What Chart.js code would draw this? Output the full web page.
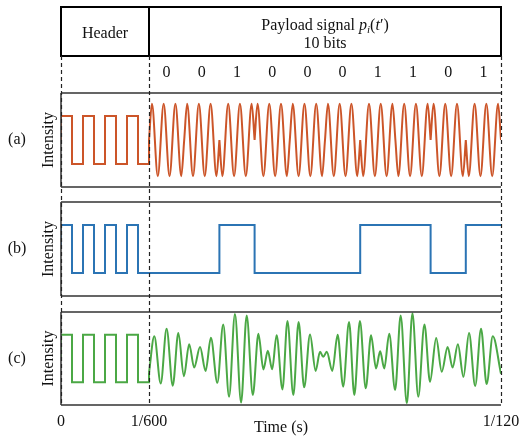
<!DOCTYPE html>
<html>
<head>
<meta charset="utf-8">
<script src="https://cdn.jsdelivr.net/npm/chart.js@4.4.1/dist/chart.umd.min.js"></script>
<style>
  body { margin: 0; background: #fff; }
  #wrap { position: relative; width: 531px; height: 437px; }
  #wrap canvas { position: absolute; left: 0; top: 0; }
</style>
</head>
<body>
<div id="wrap">
  <canvas id="panelA" width="531" height="437"></canvas>
  <canvas id="panelB" width="531" height="437"></canvas>
  <canvas id="panelC" width="531" height="437"></canvas>
</div>
<script>
// time counted in units of 1/18000 s : header = 30, one bit = 12, frame = 150
var bits = [0, 0, 1, 0, 0, 0, 1, 1, 0, 1];
var tickValues = [0, 30, 150];
var tickLabels = ['0', '1/600', '1/120'];

// header preamble (same in all three panels)
var headerEdges = [0, 3.75, 7.5, 11.25, 15, 18.75, 22.5, 26.25, 30];
var headerLevels = [1, -1, 1, -1, 1, -1, 1, -1];

// (a) carrier over one "0" bit, extrema and ends (a "1" bit is the inverted shape)
var carrierOffsets = [0, 1, 3, 5, 7, 9, 11, 12];
var carrierZero = [0, 1.5, -1.5, 1.5, -1.5, 1.5, -1.5, 0];

// (c) received signal, peaks and troughs
var recvX = [30, 31.8, 34.0, 36.0, 38.1, 40.0, 41.9, 43.7, 45.4, 47.4, 49.3, 51.1, 53.3, 55.3, 57.3,
  59.3, 61.4, 63.3, 65.4, 67.3, 69.0, 70.5, 72.0, 73.5, 75.5, 77.2, 79.2, 81.0, 82.9, 84.9, 86.8,
  88.3, 89.4, 90.6, 92.5, 94.3, 96.2, 98.2, 100.0, 101.9, 103.9, 105.7, 107.4, 108.8, 110.2, 111.9,
  113.9, 115.8, 117.9, 119.8, 121.8, 123.9, 125.8, 127.9, 129.8, 131.8, 133.5, 135.3, 137.2, 139.1,
  141.2, 143.2, 145.1, 147.2, 150];
var recvY = [-0.6, 0.93, -1.05, 1.25, -1.14, 1.07, -0.74, 0.60, -0.38, 0.48, -0.52, 0.87, -1.02, 1.43, -1.60,
  1.87, -1.85, 1.80, -1.53, 1.04, -0.46, 0.32, -0.45, 0.98, -1.30, 1.57, -1.53, 1.53, -1.21, 1.01, -0.52,
  0.28, 0.07, 0.28, -0.52, 1.00, -1.18, 1.53, -1.53, 1.57, -1.25, 0.97, -0.42, 0.30, -0.42, 1.04,
  -1.32, 1.80, -1.88, 1.90, -1.60, 1.43, -0.98, 0.86, -0.56, 0.48, -0.38, 0.60, -0.77, 1.07,
  -1.15, 1.25, -1.07, 0.93, -0.64];

var headerStart = 30, bitLength = 12, frameEnd = 150;
var orange = '#cc5529', blue = '#2b74b4', green = '#4ba845';
var serif = "'Liberation Serif', 'DejaVu Serif', serif";

Chart.defaults.font.family = serif;
Chart.defaults.font.size = 16;
Chart.defaults.color = '#111';

function headerPoints(endLevel) {
  var pts = [{x: 0, y: 0}];
  for (var i = 0; i < headerLevels.length; i++) {
    pts.push({x: headerEdges[i], y: headerLevels[i]});
    pts.push({x: headerEdges[i + 1], y: headerLevels[i]});
  }
  if (endLevel !== undefined) pts.push({x: headerStart, y: endLevel});
  return pts;
}

// (a) phase keyed carrier, broken at each bit edge so the jumps stay sharp
var carrierPts = [];
bits.forEach(function (b, i) {
  var s = b ? -1 : 1, x0 = headerStart + i * bitLength;
  carrierOffsets.forEach(function (o, k) {
    carrierPts.push({x: x0 + o, y: s * carrierZero[k]});
  });
  if (i < bits.length - 1) carrierPts.push({x: x0 + bitLength, y: null});
});

// (b) the bits themselves
var bitPts = headerPoints();
bits.forEach(function (b, i) {
  var lvl = b ? 1 : -1, x0 = headerStart + i * bitLength;
  bitPts.push({x: x0, y: lvl}, {x: x0 + bitLength, y: lvl});
});

var recvPts = recvX.map(function (x, i) { return {x: x, y: recvY[i]}; });

function line(data, color, smooth) {
  return {
    data: data, borderColor: color, borderWidth: 2, pointRadius: 0,
    tension: 0, cubicInterpolationMode: smooth ? 'monotone' : 'default', spanGaps: false
  };
}

function framePlugin(letter) {
  return {
    id: 'frame',
    afterDatasetsDraw: function (chart) {
      var a = chart.chartArea, ctx = chart.ctx;
      ctx.save();
      ctx.strokeStyle = '#333';
      ctx.lineWidth = 1.5;
      ctx.beginPath();
      ctx.moveTo(a.left, a.top); ctx.lineTo(a.right, a.top);
      ctx.moveTo(a.left, a.bottom); ctx.lineTo(a.right, a.bottom);
      ctx.moveTo(a.left, a.top); ctx.lineTo(a.left, a.bottom);
      ctx.stroke();
      ctx.fillStyle = '#111';
      ctx.font = '16px ' + serif;
      ctx.textAlign = 'center';
      ctx.textBaseline = 'middle';
      ctx.fillText(letter, 17, (a.top + a.bottom) / 2);
      ctx.restore();
    }
  };
}

function drawRuns(ctx, runs, cx, baseline) {
  var total = 0;
  runs.forEach(function (r) { ctx.font = r.font; r.w = ctx.measureText(r.text).width; total += r.w; });
  var x = cx - total / 2;
  ctx.textAlign = 'left';
  runs.forEach(function (r) { ctx.font = r.font; ctx.fillText(r.text, x, baseline + (r.dy || 0)); x += r.w; });
}

var headerBox = {
  id: 'headerBox',
  afterDraw: function (chart) {
    var ctx = chart.ctx, xs = chart.scales.x;
    var l = xs.getPixelForValue(0), m = xs.getPixelForValue(headerStart), r = xs.getPixelForValue(frameEnd);
    ctx.save();
    ctx.strokeStyle = '#000';
    ctx.lineWidth = 2;
    ctx.strokeRect(l, 7, r - l, 49);
    ctx.beginPath(); ctx.moveTo(m, 7); ctx.lineTo(m, 56); ctx.stroke();
    ctx.fillStyle = '#111';
    ctx.textBaseline = 'alphabetic';
    ctx.textAlign = 'center';
    ctx.font = '16px ' + serif;
    ctx.fillText('Header', (l + m) / 2, 38);
    var f = '16px ' + serif, fi = 'italic 16px ' + serif;
    drawRuns(ctx, [
      {text: 'Payload signal ', font: f},
      {text: 'p', font: fi},
      {text: 'i', font: 'italic 11px ' + serif, dy: 3},
      {text: '(', font: f},
      {text: 't', font: fi},
      {text: '\u2032)', font: f}
    ], (m + r) / 2, 30);
    ctx.font = f;
    ctx.textAlign = 'center';
    ctx.fillText('10 bits', (m + r) / 2, 48);
    bits.forEach(function (b, i) {
      ctx.fillText(String(b), xs.getPixelForValue(headerStart + (i + 0.5) * bitLength), 77);
    });
    ctx.restore();
  }
};

var dashedGuides = {
  id: 'dashedGuides',
  afterDraw: function (chart) {
    var ctx = chart.ctx, xs = chart.scales.x;
    ctx.save();
    ctx.strokeStyle = '#222';
    ctx.lineWidth = 1.2;
    ctx.setLineDash([4, 3]);
    tickValues.forEach(function (v) {
      var px = Math.round(xs.getPixelForValue(v)) + 0.5;
      ctx.beginPath(); ctx.moveTo(px, 56); ctx.lineTo(px, chart.chartArea.bottom); ctx.stroke();
    });
    ctx.restore();
  }
};

function makePanel(id, letter, top, bottom, datasets, showTime, extra) {
  var plugins = [framePlugin(letter)].concat(extra || []);
  return new Chart(document.getElementById(id), {
    type: 'line',
    data: {datasets: datasets},
    plugins: plugins,
    options: {
      responsive: false,
      animation: false,
      layout: {padding: {left: 0, right: 30, top: top, bottom: bottom}},
      plugins: {legend: {display: false}, tooltip: {enabled: false}},
      scales: {
        x: {
          type: 'linear', min: 0, max: frameEnd, display: showTime,
          grid: {display: false, drawTicks: false},
          border: {display: false},
          afterBuildTicks: function (s) { s.ticks = tickValues.map(function (v) { return {value: v}; }); },
          afterFit: function (s) { if (showTime) s.height = 32; },
          ticks: {
            autoSkip: false, maxRotation: 0, padding: 7, color: '#111',
            callback: function (v) { return tickLabels[tickValues.indexOf(v)]; }
          },
          title: {display: true, text: 'Time (s)', padding: {top: 0, bottom: 0}, color: '#111'}
        },
        y: {
          min: -1.95, max: 1.95,
          ticks: {display: false},
          grid: {display: false},
          border: {display: false},
          afterFit: function (s) { s.width = 61; },
          title: {display: true, text: 'Intensity', padding: {top: 39, bottom: 0}, color: '#111'}
        }
      }
    }
  });
}

makePanel('panelA', '(a)', 93, 437 - 187,
  [line(headerPoints(0), orange, false), line(carrierPts, orange, true)], false, [headerBox]);
makePanel('panelB', '(b)', 202, 437 - 296,
  [line(bitPts, blue, false)], false);
makePanel('panelC', '(c)', 312, 0,
  [line(headerPoints(recvY[0]), green, false), line(recvPts, green, true)], true, [dashedGuides]);
</script>
</body>
</html>
